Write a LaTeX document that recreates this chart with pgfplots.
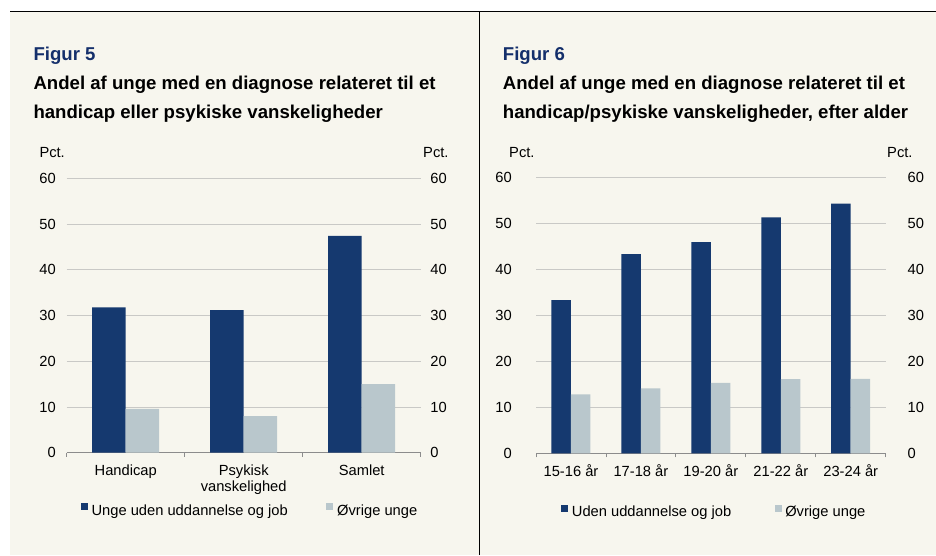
\documentclass[border=0pt]{standalone}
\usepackage{fontspec}
\setmainfont{Liberation Sans}
\usepackage{pgfplots}
\pgfplotsset{compat=1.18}
\definecolor{bg}{HTML}{F7F6EE}
\definecolor{navy}{HTML}{15396F}
\definecolor{lightb}{HTML}{B9C7CC}
\definecolor{titleblue}{HTML}{142F6B}
\definecolor{gridc}{HTML}{C9C9C6}
\definecolor{axisc}{HTML}{8C8C8C}
\newcommand\fs{\fontsize{14.7}{16.7}\selectfont}
\newcommand\ft{\fontsize{18.6}{22}\selectfont\bfseries}
\pgfplotsset{
  panel/.style={
    scale only axis, anchor=south west,
    ymin=0, ymax=60, ytick={0,10,...,60},
    enlargelimits=false,
    ymajorgrids, grid style={gridc, line width=0.8pt},
    axis x line*=bottom, axis y line*=left,
    y axis line style={draw=none},
    x axis line style={-, axisc, line width=0.8pt},
    major tick length=0pt,
    ytick style={draw=none},
    xtick style={draw=none},
    /pgf/number format/assume math mode=true,
    ticklabel style={font=\fs, text=black},
    yticklabel style={inner sep=0pt, anchor=east, xshift=-10.7pt},
    xticklabel style={inner sep=0pt, anchor=north, yshift=-11.6pt, align=center},
    extra x tick labels={},
    extra x tick style={major tick length=4pt, tick align=outside, xtick style={draw=axisc, line width=0.8pt}},
    ybar=0pt,
    every axis plot post/.append style={draw=none, legend image code/.code={\fill[##1] (0pt,0pt) rectangle (7pt,7pt);}},
    legend style={draw=none, fill=none, font=\fs, inner sep=0pt, anchor=west,
      nodes={inner sep=0pt}},
    legend columns=2,
    legend cell align=left,
    clip=false,
  },
  rlabels/.style={
    scale only axis, anchor=south west,
    ymin=0, ymax=60, ytick={0,10,...,60}, xmin=0, xmax=1,
    axis x line=none, axis y line*=right,
    y axis line style={draw=none}, ytick style={draw=none},
    major tick length=0pt,
    /pgf/number format/assume math mode=true,
    ticklabel style={font=\fs, text=black},
    yticklabel style={inner sep=0pt, anchor=west, xshift=9.5pt},
  },
}
\begin{document}
\begin{tikzpicture}[x=1pt,y=1pt]
\fill[white] (0,0) rectangle (936,555);
\fill[bg] (10,0) rectangle (936,543.5);
\draw[black, line width=1pt] (10,543.5) -- (936,543.5);
\draw[black, line width=1pt] (479.5,0) -- (479.5,543.5);
% titles
\node[anchor=base west, inner sep=0pt, text=titleblue, font=\ft] at (33.3,494) {Figur 5};
\node[anchor=base west, inner sep=0pt, font=\ft] at (33.3,465) {Andel af unge med en diagnose relateret til et};
\node[anchor=base west, inner sep=0pt, font=\ft] at (33.3,436.7) {handicap eller psykiske vanskeligheder};
\node[anchor=base west, inner sep=0pt, text=titleblue, font=\ft] at (502.7,494) {Figur 6};
\node[anchor=base west, inner sep=0pt, font=\ft] at (502.7,465) {Andel af unge med en diagnose relateret til et};
\node[anchor=base west, inner sep=0pt, font=\ft] at (502.7,436.7) {handicap/psykiske vanskeligheder, efter alder};
\node[anchor=base west, inner sep=0pt, font=\fs] at (39.3,397.7) {Pct.};
\node[anchor=base west, inner sep=0pt, font=\fs] at (423,397.7) {Pct.};
\node[anchor=base west, inner sep=0pt, font=\fs] at (509,397.7) {Pct.};
\node[anchor=base west, inner sep=0pt, font=\fs] at (887,397.7) {Pct.};
% left panel
\begin{axis}[panel, at={(66.7pt,102.3pt)}, width=354pt, height=274.4pt,
  xmin=-0.5, xmax=2.5, xtick={0,1,2},
  xticklabels={Handicap,{Psykisk\\vanskelighed},Samlet},
  extra x ticks={-0.5,0.5,1.5,2.5},
  bar width=33.5pt,
  legend style={at={(0.0395,-0.2088)}, /tikz/every odd column/.append style={column sep=3.7pt}, /tikz/every even column/.append style={column sep=38.7pt}}]
\addplot[fill=navy] coordinates {(0,31.8) (1,31.2) (2,47.4)};
\addplot[fill=lightb] coordinates {(0,9.6) (1,8.0) (2,15.0)};
\legend{Unge uden uddannelse og job, Øvrige unge}
\end{axis}
\begin{axis}[rlabels, at={(66.7pt,102.3pt)}, width=354pt, height=274.4pt]
\end{axis}
% right panel
\begin{axis}[panel, at={(536pt,101.7pt)}, width=349.7pt, height=276pt,
  xmin=-0.5, xmax=4.5, xtick={0,1,2,3,4},
  xticklabels={15-16 år,17-18 år,19-20 år,21-22 år,23-24 år},
  extra x ticks={-0.5,0.5,1.5,2.5,3.5,4.5},
  bar width=19.5pt,
  yticklabel style={xshift=-13.3pt},
  legend style={at={(0.0715,-0.2116)}, /tikz/every odd column/.append style={column sep=3.7pt}, /tikz/every even column/.append style={column sep=43.3pt}}]
\addplot[fill=navy] coordinates {(0,33.3) (1,43.3) (2,45.9) (3,51.3) (4,54.3)};
\addplot[fill=lightb] coordinates {(0,12.8) (1,14.1) (2,15.3) (3,16.1) (4,16.2)};
\legend{Uden uddannelse og job, Øvrige unge}
\end{axis}
\begin{axis}[rlabels, at={(536pt,101.7pt)}, width=349.7pt, height=276pt, yticklabel style={xshift=12.3pt}]
\end{axis}
\pgfresetboundingbox
\useasboundingbox (0,0) rectangle (936,555);
\end{tikzpicture}
\end{document}
